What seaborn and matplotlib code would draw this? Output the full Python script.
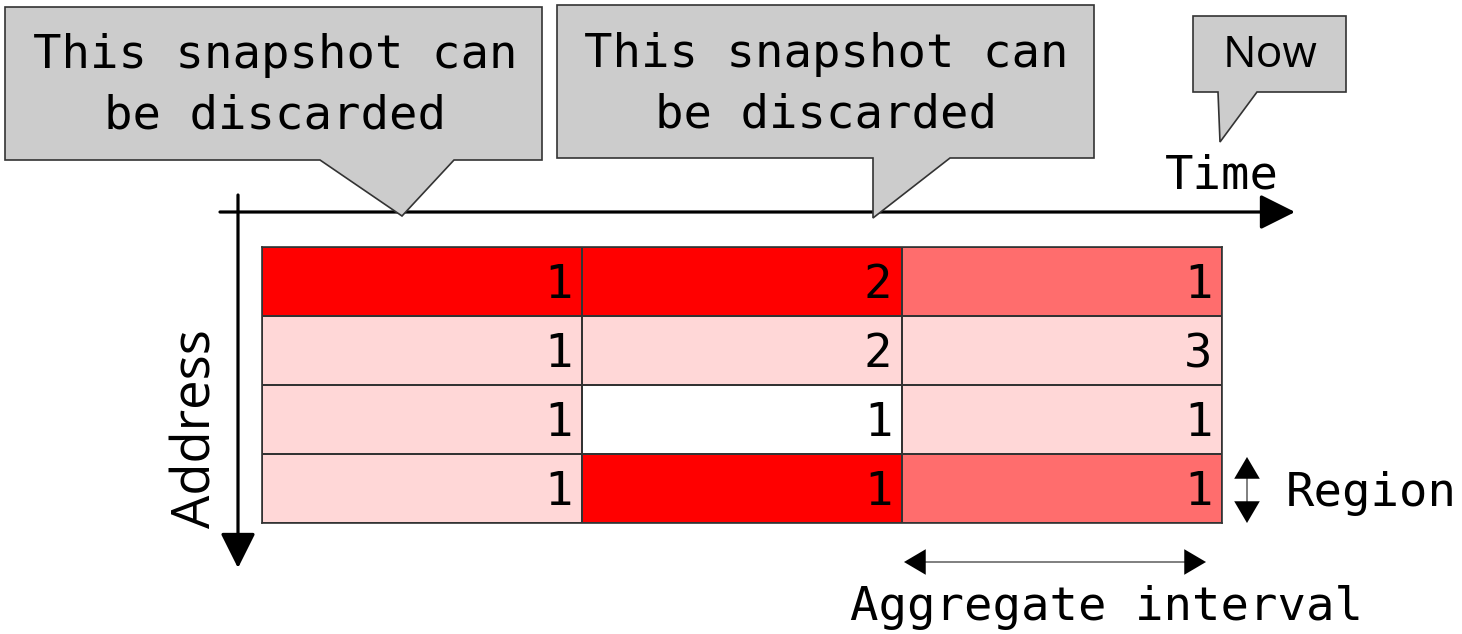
"""Snapshot aggregation diagram: region heat per aggregate interval."""
import numpy as np
import matplotlib
matplotlib.use("Agg")
import matplotlib.pyplot as plt
from matplotlib.colors import ListedColormap
from matplotlib.patches import Polygon
import seaborn as sns

# heat level of each region in each snapshot (0 = none ... 3 = hottest)
heat = [[3, 3, 2],
        [1, 1, 1],
        [1, 0, 1],
        [1, 3, 2]]
# access counts written in the cells
counts = [[1, 2, 1],
          [1, 2, 3],
          [1, 1, 1],
          [1, 1, 1]]
heat_colors = ["#ffffff", "#ffd7d7", "#ff6d6d", "#ff0000"]

callout_text = "This snapshot can\nbe discarded"
now_text = "Now"

sns.set_style("white")
plt.rcParams["text.color"] = "black"
MONO = "DejaVu Sans Mono"
SANS = "Open Sans"

W, H = 1462, 634
fig = plt.figure(figsize=(W / 100, H / 100), dpi=100)

# --- grid of snapshots ---
hax = fig.add_axes([262 / W, 1 - 523 / H, 960 / W, 276 / H])
sns.heatmap(np.array(heat), cmap=ListedColormap(heat_colors), vmin=-0.5, vmax=3.5,
            annot=np.array(counts), fmt="d", cbar=False,
            linewidths=1.2, linecolor="#333333",
            xticklabels=False, yticklabels=False, ax=hax,
            annot_kws=dict(fontsize=34, family=MONO, color="black"))
for t in hax.texts:
    x, y = t.get_position()
    t.set_position((x + 0.47, y + 0.06))
    t.set_ha("right")
for sp in hax.spines.values():
    sp.set_visible(True)
    sp.set_color("#333333")
    sp.set_linewidth(1.2)

# --- overlay in pixel coordinates for arrows and callouts ---
ax = fig.add_axes([0, 0, 1, 1], zorder=5)
ax.set_xlim(0, W)
ax.set_ylim(H, 0)
ax.axis("off")
ax.patch.set_alpha(0)

def arrow(x0, y0, x1, y1, style, lw, ms, ec="black"):
    ax.annotate("", xy=(x1, y1), xytext=(x0, y0),
                arrowprops=dict(arrowstyle=style, lw=lw, ec=ec, fc="black",
                                mutation_scale=ms, shrinkA=0, shrinkB=0))

# time and address axes
arrow(220, 212, 1295, 212, "-|>,head_length=0.4,head_width=0.2", 2.3, 54)
arrow(238, 195, 238, 568, "-|>,head_length=0.4,head_width=0.2", 2.3, 54)
ax.text(1222, 176, "Time", family=MONO, fontsize=34, ha="center", va="center")
ax.text(197, 429, "Address", family=SANS, fontsize=38, rotation=90,
        ha="center", va="center")

# region / interval markers
ax.plot([1247, 1247], [472, 508], color="#777777", lw=1.3)
ax.plot([920, 1190], [562, 562], color="#777777", lw=1.3)
head = "<|-|>,head_length=0.34,head_width=0.2"
arrow(1247, 457, 1247, 523, head, 0.01, 46, ec="black")
arrow(904, 562, 1206, 562, head, 0.01, 46, ec="black")
ax.text(1371, 493, "Region", family=MONO, fontsize=34, ha="center", va="center")
ax.text(1106, 607, "Aggregate interval", family=MONO, fontsize=34,
        ha="center", va="center")

# callouts
box_style = dict(facecolor="#cccccc", edgecolor="#333333", lw=1.2, zorder=6)
ax.add_patch(Polygon([(5, 7), (542, 7), (542, 160), (454, 160), (402, 216),
                      (320, 160), (5, 160)], closed=True, **box_style))
ax.add_patch(Polygon([(557, 5), (1094, 5), (1094, 158), (950, 158), (873, 218),
                      (873, 158), (557, 158)], closed=True, **box_style))
ax.add_patch(Polygon([(1193, 16), (1346, 16), (1346, 92), (1257, 92), (1220, 142),
                      (1218, 92), (1193, 92)], closed=True, **box_style))
ax.text(275, 86, callout_text, family=MONO, fontsize=34, ha="center",
        va="center", linespacing=1.45, zorder=7)
ax.text(826, 85, callout_text, family=MONO, fontsize=34, ha="center",
        va="center", linespacing=1.45, zorder=7)
ax.text(1270, 56, now_text, family=SANS, fontsize=32, ha="center",
        va="center", zorder=7)

fig.savefig("out.png", dpi=100)
